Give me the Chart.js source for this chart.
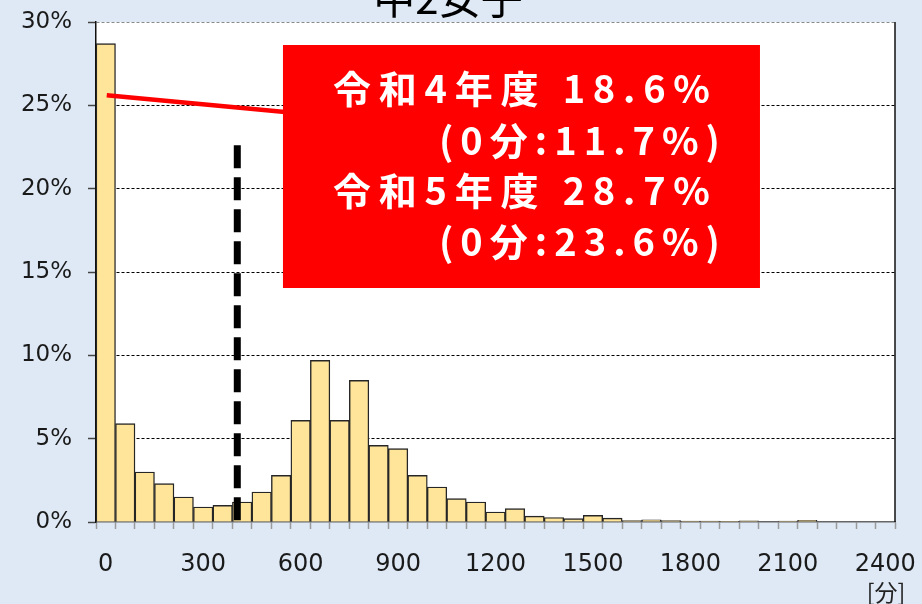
<!DOCTYPE html>
<html lang="ja">
<head>
<meta charset="utf-8">
<title>中2女子</title>
<script src="https://cdn.jsdelivr.net/npm/chart.js@4.4.1/dist/chart.umd.min.js"></script>
<style>
  html, body { margin: 0; padding: 0; background: #dee9f5; }
  #wrap { width: 922px; height: 604px; position: relative; }
</style>
</head>
<body>
<div id="wrap"><canvas id="chart" width="922" height="604"></canvas></div>
<script>
// Weekly exercise time (minutes), bins of 60 minutes
const binLabels = [
  '0', '60', '120', '180', '240', '300', '360', '420', '480', '540',
  '600', '660', '720', '780', '840', '900', '960', '1020', '1080', '1140',
  '1200', '1260', '1320', '1380', '1440', '1500', '1560', '1620', '1680', '1740',
  '1800', '1860', '1920', '1980', '2040', '2100', '2160', '2220', '2280', '2340',
  '2400'
];
// Share of students in each bin (%)
const shares = [
  28.7, 5.9, 3.0, 2.3, 1.5, 0.9, 1.0, 1.2, 1.8, 2.8,
  6.1, 9.7, 6.1, 8.5, 4.6, 4.4, 2.8, 2.1, 1.4, 1.2,
  0.6, 0.8, 0.35, 0.27, 0.2, 0.4, 0.23, 0.09, 0.13, 0.09,
  0.05, 0.05, 0.02, 0.07, 0, 0.06, 0.1, 0, 0, 0,
  0
];
const shownTicks = ['0', '300', '600', '900', '1200', '1500', '1800', '2100', '2400'];
const yTicks = [0, 5, 10, 15, 20, 25, 30];

const chartTitle = '中2女子';
const unitLabel = '[分]';
const calloutLines = ['令和4年度 18.6%', '(0分:11.7%)', '令和5年度 28.7%', '(0分:23.6%)'];
// reference line: 420 minutes a week (60 minutes a day), drawn up to 22.6 %
const thresholdIndex = 6.75;
const thresholdTop = 22.6;
// callout connector: from the first bar to the box
const connectorFrom = 25.6;
const connectorTo = 24.6;

const FONT = "'Noto Sans CJK JP', 'Noto Sans', sans-serif";
const NUM_FONT = "'DejaVu Sans', 'Noto Sans', sans-serif";

// draws text stretched with even letter spacing to span a given width
function spacedText(ctx, text, x, y, width) {
  const chars = Array.from(text);
  const natural = ctx.measureText(text).width;
  const gap = chars.length > 1 ? (width - natural) / (chars.length - 1) : 0;
  let cx = x;
  for (const ch of chars) {
    ctx.fillText(ch, cx, y);
    cx += ctx.measureText(ch).width + gap;
  }
}

const decorations = {
  id: 'decorations',
  beforeDraw(chart) {
    const { ctx, chartArea: a } = chart;
    ctx.save();
    ctx.fillStyle = '#dee9f5';
    ctx.fillRect(0, 0, chart.width, chart.height);
    ctx.fillStyle = '#ffffff';
    ctx.fillRect(a.left, a.top, a.right - a.left, a.bottom - a.top);
    ctx.restore();
  },
  afterDraw(chart) {
    const { ctx, chartArea: a, scales: { x, y } } = chart;
    ctx.save();
    // right frame line
    ctx.strokeStyle = '#111';
    ctx.lineWidth = 1.5;
    ctx.beginPath();
    ctx.moveTo(a.right, a.top);
    ctx.lineTo(a.right, a.bottom);
    ctx.stroke();

    // threshold dashed line
    const tx = x.getPixelForValue(thresholdIndex);
    ctx.strokeStyle = '#000';
    ctx.lineWidth = 7;
    ctx.setLineDash([23, 9]);
    ctx.beginPath();
    ctx.moveTo(tx, y.getPixelForValue(thresholdTop));
    ctx.lineTo(tx, y.getPixelForValue(0));
    ctx.stroke();
    ctx.setLineDash([]);

    // callout box
    const w = a.right - a.left, h = a.bottom - a.top;
    const bx = a.left + w * 0.234, bw = w * 0.597;
    const by = a.top + h * 0.046, bh = h * 0.486;

    // connector from the first bar
    ctx.strokeStyle = '#ff0000';
    ctx.lineWidth = 4.5;
    ctx.beginPath();
    ctx.moveTo(x.getPixelForValue(0) + 1, y.getPixelForValue(connectorFrom));
    ctx.lineTo(bx + 2, y.getPixelForValue(connectorTo));
    ctx.stroke();

    ctx.fillStyle = '#ff0000';
    ctx.fillRect(bx, by, bw, bh);

    ctx.fillStyle = '#ffffff';
    ctx.font = 'bold 38px ' + FONT;
    ctx.textBaseline = 'middle';
    ctx.textAlign = 'left';
    const lineX = [bx + 50, bx + 156, bx + 50, bx + 156];
    const lineW = [377, 281, 377, 281];
    const lineY = [by + 44, by + 96, by + 146, by + 197];
    calloutLines.forEach((t, i) => spacedText(ctx, t, lineX[i], lineY[i], lineW[i]));

    // title (runs off the top edge)
    ctx.fillStyle = '#000';
    ctx.font = '42px ' + FONT;
    ctx.textAlign = 'center';
    ctx.textBaseline = 'alphabetic';
    ctx.fillText(chartTitle, 448, 14);

    // unit
    ctx.font = '23px ' + FONT;
    ctx.fillStyle = '#222';
    ctx.fillText(unitLabel, 886, 601);
    ctx.restore();
  }
};

new Chart(document.getElementById('chart'), {
  type: 'bar',
  data: {
    labels: binLabels,
    datasets: [{
      data: shares,
      backgroundColor: '#ffe599',
      borderColor: '#262626',
      borderWidth: 1.4,
      barPercentage: 1,
      categoryPercentage: 1
    }]
  },
  options: {
    responsive: false,
    animation: false,
    events: [],
    layout: { padding: { top: 22, right: 27, left: 0, bottom: 0 } },
    plugins: { legend: { display: false }, tooltip: { enabled: false }, title: { display: false } },
    scales: {
      x: {
        type: 'category',
        offset: true,
        afterFit(s) { s.height = 82; s.paddingLeft = 0; s.paddingRight = 0; },
        grid: {
          offset: true,
          drawOnChartArea: false,
          drawTicks: true,
          tickLength: 7,
          tickColor: '#9a9a9a',
          tickWidth: 1.5
        },
        border: { color: '#666', width: 1.5 },
        ticks: {
          autoSkip: false,
          maxRotation: 0,
          minRotation: 0,
          padding: 21,
          color: '#1a1a1a',
          font: { family: NUM_FONT, size: 24 },
          callback(value) {
            const lab = binLabels[value];
            return shownTicks.includes(lab) ? lab : '';
          }
        }
      },
      y: {
        min: 0,
        max: 30,
        afterFit(s) { s.width = 96; s.paddingTop = 0; s.paddingBottom = 0; },
        afterBuildTicks(s) { s.ticks = yTicks.map(v => ({ value: v })); },
        grid: {
          color(ctx) {
            const v = ctx.tick && ctx.tick.value;
            if (v === 0) return 'rgba(0,0,0,0)';
            if (v === 30) return '#8a8a8a';
            return '#000';
          },
          lineWidth: 1,
          tickLength: 8,
          tickColor: '#444',
          tickWidth: 1.5
        },
        border: { color: '#111', width: 1.5, dash: [3, 2] },
        ticks: {
          padding: 16,
          color: '#1a1a1a',
          font: { family: NUM_FONT, size: 23 },
          callback(v) { return v + '%'; }
        }
      }
    }
  },
  plugins: [decorations]
});
</script>
</body>
</html>
